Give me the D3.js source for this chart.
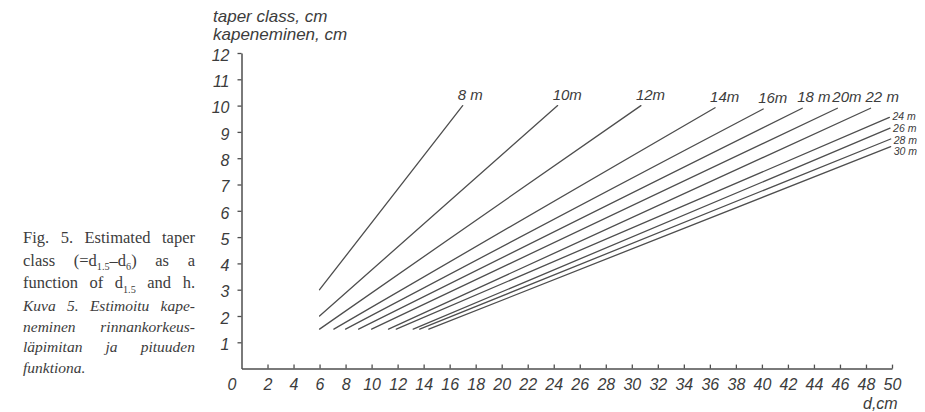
<!DOCTYPE html>
<html>
<head>
<meta charset="utf-8">
<script src="https://cdn.jsdelivr.net/npm/d3@7"></script>
<style>
html,body{margin:0;padding:0;background:#fff;}
svg{display:block;}
</style>
</head>
<body>
<svg id="chart" width="925" height="412"></svg>
<script>
// ---- data ----
const heights    = [8, 10, 12, 14, 16, 18, 20, 22, 24, 26, 28, 30];
const heightLabels = ["8 m","10m","12m","14m","16m","18 m","20m","22 m","24 m","26 m","28 m","30 m"];
const dStart     = [6, 6, 6, 7.1, 8, 9, 10, 11.3, 11.9, 13.2, 13.7, 14.4];
const taperStart = [3, 2, 1.5, 1.5, 1.5, 1.5, 1.5, 1.5, 1.5, 1.5, 1.5, 1.5];
const dEnd       = [17, 24.3, 30.7, 36.4, 40.1, 43.1, 45.8, 48.35, 49.8, 49.85, 49.9, 49.9];
const taperEnd   = [10, 10, 10, 9.92, 9.87, 9.9, 9.9, 9.9, 9.55, 9.14, 8.73, 8.44];
const xTicks = d3.range(0, 51, 2);
const yTicks = d3.range(1, 13, 1);
const yTitle = ["taper class, cm", "kapeneminen, cm"];
const xTitle = "d,cm";
const captionEn = [
  ["Fig.","5.","Estimated","taper"],
  ["class","(=d_{1.5}–d_{6})","as","a"],
  ["function","of","d_{1.5}","and","h."]
];
const captionFi = [
  ["Kuva","5.","Estimoitu","kape-"],
  ["neminen","rinnankorkeus-"],
  ["läpimitan","ja","pituuden"],
  ["funktiona."]
];

// ---- layout ----
const svg = d3.select("#chart");
const ink = "#3c3c3c";
const lineInk = "#4e4e4e";
const sans = "'Liberation Sans', Arial, sans-serif";
const serif = "'Liberation Serif', 'Times New Roman', serif";

const x = d3.scaleLinear().domain([0, 50]).range([241.5, 892]);
const y = d3.scaleLinear().domain([0, 12]).range([368.6, 53]);

// axes
const gx = svg.append("g").attr("transform", `translate(0,${y(0)})`)
  .call(d3.axisBottom(x).tickValues(xTicks).tickSizeInner(-4).tickSizeOuter(0).tickPadding(10).tickFormat(d3.format("d")));
const gy = svg.append("g").attr("transform", `translate(${x(0)},0)`)
  .call(d3.axisLeft(y).tickValues(yTicks).tickSize(4).tickSizeOuter(0).tickPadding(8).tickFormat(d3.format("d")));

[gx, gy].forEach(g => {
  g.select(".domain").attr("stroke", lineInk).attr("stroke-width", 1.5);
  g.selectAll(".tick line").attr("stroke", lineInk).attr("stroke-width", 1.3);
  g.selectAll(".tick text").attr("fill", ink).style("font-family", sans)
    .style("font-style", "italic").style("font-size", "16px");
});
gx.selectAll(".tick").filter(d => d === 0).each(function() {
  d3.select(this).select("line").remove();
  d3.select(this).select("text").attr("x", -10);
});
gy.selectAll(".tick text").attr("dy", "0.45em");

// axis titles
svg.append("g").selectAll("text").data(yTitle).join("text")
  .attr("x", 213).attr("y", (d, i) => 21.5 + i * 18.5)
  .attr("fill", ink).style("font-family", sans).style("font-style", "italic").style("font-size", "17px")
  .text(d => d);
svg.append("text").attr("x", 863).attr("y", 409)
  .attr("fill", ink).style("font-family", sans).style("font-style", "italic").style("font-size", "16px")
  .text(xTitle);

// lines
const rows = heights.map((h, i) => ({h, label: heightLabels[i], x0: dStart[i], y0: taperStart[i], x1: dEnd[i], y1: taperEnd[i]}));
svg.append("g").selectAll("line").data(rows).join("line")
  .attr("x1", d => x(d.x0)).attr("y1", d => y(d.y0))
  .attr("x2", d => x(d.x1)).attr("y2", d => y(d.y1))
  .attr("stroke", lineInk).attr("stroke-width", 1.3).attr("stroke-linecap", "round");

// line labels: large ones above the line ends, small stacked ones to the right
let prevSmall = -Infinity;
rows.forEach(d => {
  if (d.h <= 22) {
    d.lx = x(d.x1) - 5; d.ly = y(d.y1) - 6; d.fs = 15;
  } else {
    d.lx = x(d.x1) + 3;
    d.ly = Math.max(y(d.y1) + 3, prevSmall + 11.6);
    prevSmall = d.ly; d.fs = 10.5;
  }
});
svg.append("g").selectAll("text").data(rows).join("text")
  .attr("x", d => d.lx).attr("y", d => d.ly)
  .attr("fill", ink).style("font-family", sans).style("font-style", "italic")
  .style("font-size", d => d.fs + "px")
  .text(d => d.label);

// caption (justified)
function addWord(g, word, size) {
  const t = g.append("text").style("font-size", size + "px");
  const parts = word.split(/(_\{[^}]*\})/).filter(s => s.length);
  let wasSub = false;
  parts.forEach(p => {
    if (p.startsWith("_{")) {
      t.append("tspan").attr("dy", size * 0.3).style("font-size", (size * 0.62) + "px").text(p.slice(2, -1));
      wasSub = true;
    } else {
      const ts = t.append("tspan").text(p);
      if (wasSub) ts.attr("dy", -size * 0.3);
      wasSub = false;
    }
  });
  return t;
}
function captionBlock(lines, startY, lead, size, italic, justifyLast) {
  const left = 23, right = 195;
  lines.forEach((words, li) => {
    const g = svg.append("g").attr("fill", ink).style("font-family", serif)
      .style("font-style", italic ? "italic" : "normal");
    const by = startY + li * lead;
    const els = words.map(w => addWord(g, w, size));
    const widths = els.map(e => e.node().getComputedTextLength());
    const total = d3.sum(widths);
    const last = li === lines.length - 1 && !justifyLast;
    const gap = (last || words.length < 2) ? size * 0.3 : (right - left - total) / (words.length - 1);
    let cx = left;
    els.forEach((e, k) => {
      e.attr("x", cx).attr("y", by);
      e.select("tspan").attr("x", cx);
      cx += widths[k] + gap;
    });
  });
}
captionBlock(captionEn, 243, 22.5, 16.5, false, true);
captionBlock(captionFi, 311, 20.5, 15.5, true, false);
</script>
</body>
</html>
